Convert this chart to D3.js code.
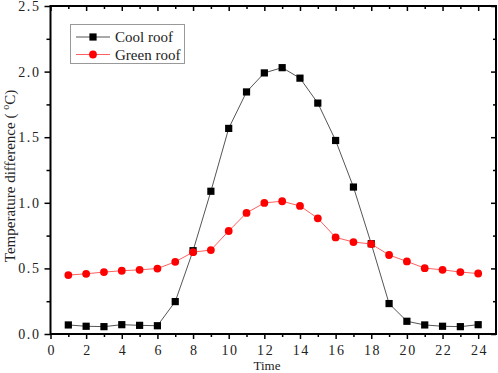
<!DOCTYPE html>
<html><head><meta charset="utf-8">
<script src="https://cdn.jsdelivr.net/npm/d3@7/dist/d3.min.js"></script>
<style>
body{margin:0;background:#fff;}
svg{display:block;font-family:"Liberation Serif","Times New Roman",serif;}
svg text{font-family:"Liberation Serif","Times New Roman",serif;}
</style></head>
<body><svg id="c" width="498" height="373"></svg>
<script>
const hours = [1,2,3,4,5,6,7,8,9,10,11,12,13,14,15,16,17,18,19,20,21,22,23,24];
const coolRoof = [0.069,0.059,0.056,0.071,0.066,0.063,0.247,0.635,1.088,1.567,1.845,1.99,2.03,1.95,1.76,1.475,1.12,0.688,0.232,0.097,0.069,0.059,0.056,0.071];
const greenRoof = [0.449,0.459,0.472,0.482,0.489,0.499,0.55,0.624,0.64,0.785,0.923,0.999,1.012,0.976,0.882,0.736,0.701,0.686,0.602,0.553,0.502,0.489,0.472,0.461];
const xTicks = [0,2,4,6,8,10,12,14,16,18,20,22,24];
const xMinor = [1,3,5,7,9,11,13,15,17,19,21,23];
const yTicks = [0,0.5,1.0,1.5,2.0,2.5];
const yMinor = [0.25,0.75,1.25,1.75,2.25];
const seriesNames = ["Cool roof","Green roof"];

const svg = d3.select("#c");
const L=50.5, R=496, T=6, B=334;
const x = d3.scaleLinear().domain([0,25]).range([L,R]);
const y = d3.scaleLinear().domain([0,2.5]).range([B,T]);

// series
const line = d3.line().x((d,i)=>x(hours[i])).y(d=>y(d));
svg.append("path").datum(coolRoof).attr("d",line).attr("fill","none").attr("stroke","#555").attr("stroke-width",1);
svg.append("g").selectAll("rect").data(coolRoof).join("rect")
  .attr("x",(d,i)=>x(hours[i])-3.6).attr("y",d=>y(d)-3.6).attr("width",7.2).attr("height",7.2).attr("fill","#000");
svg.append("path").datum(greenRoof).attr("d",line).attr("fill","none").attr("stroke","#ff6060").attr("stroke-width",1);
svg.append("g").selectAll("circle").data(greenRoof).join("circle")
  .attr("cx",(d,i)=>x(hours[i])).attr("cy",d=>y(d)).attr("r",3.9).attr("fill","#ff0000");

// axes
const FF = "Liberation Serif, Times New Roman, serif";
function styleAxis(g){ g.attr("font-family",FF); g.select(".domain").remove(); g.selectAll("line").attr("stroke","#000").attr("stroke-width",1.5); }
const fmt = d3.format(".1f");
svg.append("g").attr("transform",`translate(${L},0)`).call(d3.axisLeft(y).tickValues(yTicks).tickFormat(fmt).tickSize(6).tickPadding(4))
  .call(styleAxis).call(g=>g.selectAll("text").attr("font-size",14).attr("letter-spacing","1.6px").attr("fill","#222"));
svg.append("g").attr("transform",`translate(${L},0)`).call(d3.axisLeft(y).tickValues(yMinor).tickFormat("").tickSize(4)).call(styleAxis);
svg.append("g").attr("transform",`translate(0,${B})`).call(d3.axisBottom(x).tickValues(xTicks).tickSize(5).tickPadding(6))
  .call(styleAxis).call(g=>g.selectAll("text").attr("font-size",14).attr("letter-spacing","1.6px").attr("dx","0.8px").attr("fill","#222"));
svg.append("g").attr("transform",`translate(0,${B})`).call(d3.axisBottom(x).tickValues(xMinor).tickFormat("").tickSize(3)).call(styleAxis);
svg.append("g").attr("transform",`translate(0,${T})`).call(d3.axisTop(x).tickValues(xTicks).tickFormat("").tickSize(-5)).call(styleAxis);
svg.append("g").attr("transform",`translate(0,${T})`).call(d3.axisTop(x).tickValues(xMinor).tickFormat("").tickSize(-3)).call(styleAxis);
svg.append("g").attr("transform",`translate(${R},0)`).call(d3.axisRight(y).tickValues(yTicks).tickFormat("").tickSize(-5)).call(styleAxis);
svg.append("g").attr("transform",`translate(${R},0)`).call(d3.axisRight(y).tickValues(yMinor).tickFormat("").tickSize(-3)).call(styleAxis);

// frame
svg.append("rect").attr("x",L).attr("y",T).attr("width",R-L).attr("height",B-T).attr("fill","none").attr("stroke","#000").attr("stroke-width",2);

// axis titles
svg.append("text").attr("x",267).attr("y",370).attr("text-anchor","middle").attr("font-size",13).attr("fill","#222").text("Time");
const yl = svg.append("text").attr("transform","translate(15,176) rotate(-90)").attr("text-anchor","middle").attr("font-size",15).attr("fill","#222");
yl.append("tspan").text("Temperature difference ( ");
yl.append("tspan").attr("font-size",10).attr("dy",-6).text("o");
yl.append("tspan").attr("dy",6).text("C)");

// legend
const lg = svg.append("g");
lg.append("rect").attr("x",70.5).attr("y",24.5).attr("width",114).attr("height",39).attr("fill","#fff").attr("stroke","#999").attr("stroke-width",1);
const rows=[{n:seriesNames[0],c:"#555",m:"sq"},{n:seriesNames[1],c:"#ff6060",m:"ci"}];
rows.forEach((r,i)=>{
  const yy = 37 + i*17.5;
  lg.append("line").attr("x1",76).attr("x2",110).attr("y1",yy).attr("y2",yy).attr("stroke",r.c).attr("stroke-width",1);
  if(r.m==="sq") lg.append("rect").attr("x",93-3.6).attr("y",yy-3.6).attr("width",7.2).attr("height",7.2).attr("fill","#000");
  else lg.append("circle").attr("cx",93).attr("cy",yy).attr("r",3.9).attr("fill","#ff0000");
  lg.append("text").attr("x",115).attr("y",yy+5).attr("font-size",15).attr("fill","#222").text(r.n);
});
</script></body></html>
